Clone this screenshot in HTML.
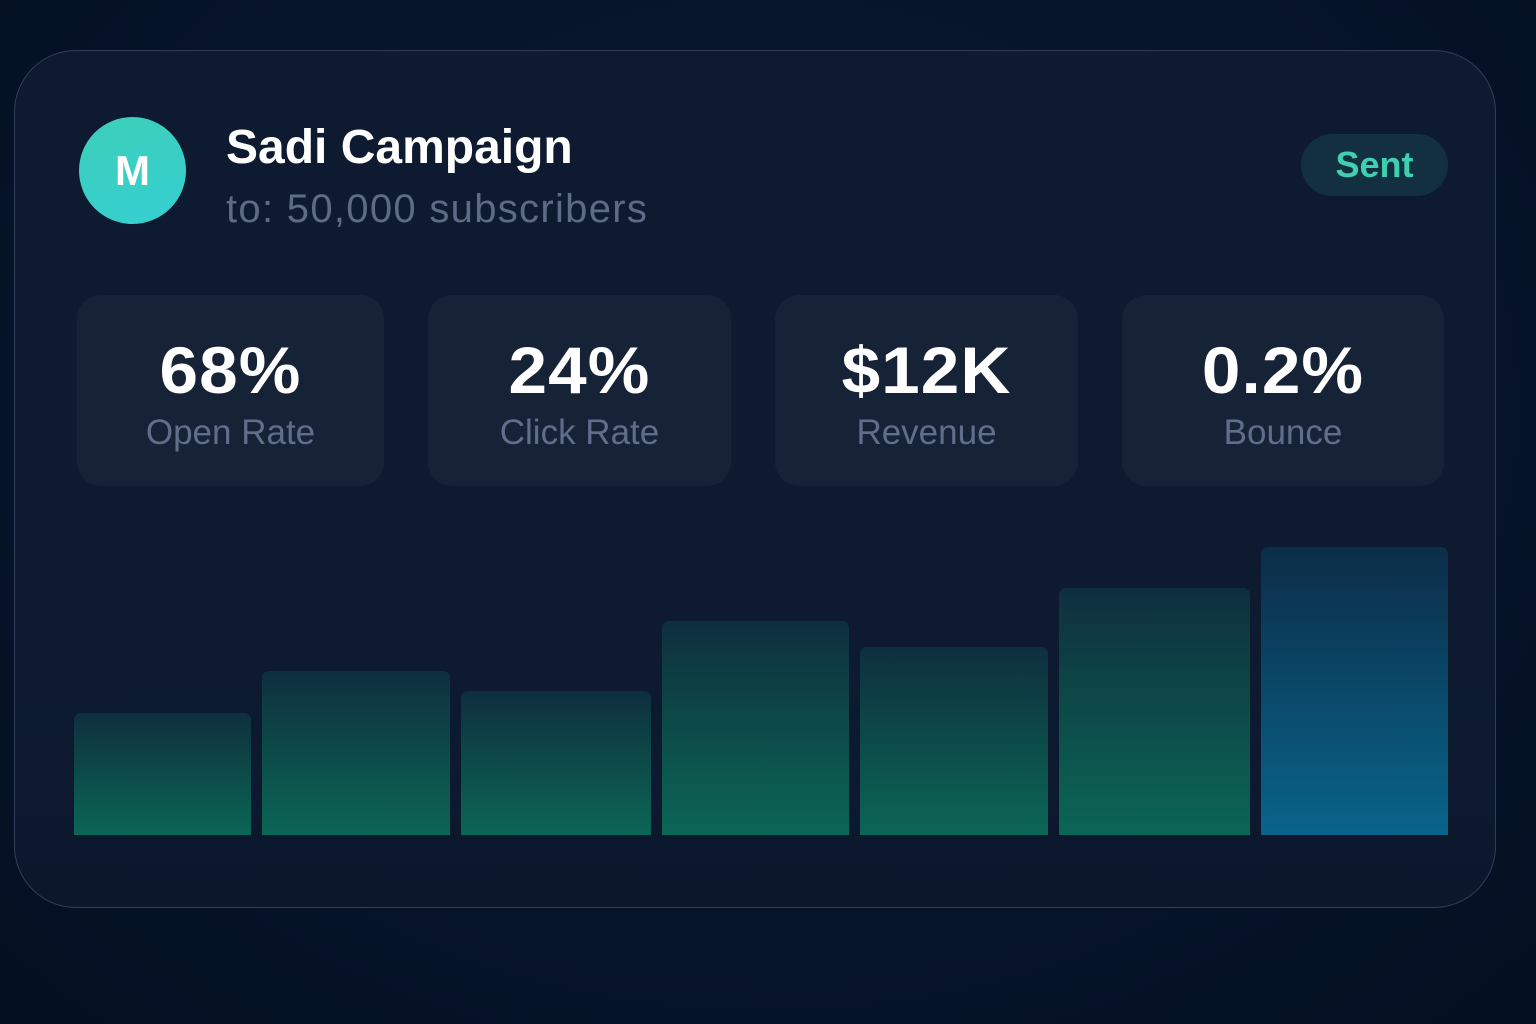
<!DOCTYPE html>
<html><head><meta charset="utf-8"><style>
html,body{margin:0;padding:0;width:1536px;height:1024px;overflow:hidden;background:radial-gradient(ellipse at 50% 40%,#0c1a30 0%,#06142a 60%,#031021 100%);font-family:"Liberation Sans",sans-serif}
.card{position:absolute;left:14px;top:50px;width:1480px;height:856px;border:1.5px solid #303e58;border-radius:62px;background:linear-gradient(180deg,#0e1a2f,#0d1a30 70%,#0b182c)}
.av{position:absolute;left:79px;top:117px;width:107px;height:107px;border-radius:50%;background:linear-gradient(160deg,#3ecfb9,#34cfd2);color:#fff;font-weight:bold;font-size:42px;line-height:107px;text-align:center}
.t{position:absolute;left:226px;top:120px;color:#fff;font-weight:bold;font-size:48px;white-space:nowrap}
.s{position:absolute;left:226px;top:187px;color:#5c6b86;font-size:40px;letter-spacing:1.3px;white-space:nowrap}
.pill{position:absolute;left:1301px;top:134px;width:147px;height:62px;border-radius:31px;background:#133040;color:#3fd0b0;font-weight:bold;font-size:36px;line-height:62px;text-align:center}
.box{position:absolute;top:295px;height:191px;border-radius:24px;background:#162236;text-align:center}
.n{position:absolute;left:0;right:0;top:332px;color:#fff;font-weight:bold;font-size:66px;letter-spacing:1px;text-align:center;transform:scaleX(1.05)}
.l{position:absolute;left:0;right:0;top:413px;color:#5f6e8a;font-size:35px;text-align:center}
.bar{position:absolute;bottom:189px;border-radius:7px 7px 0 0;background:linear-gradient(180deg,#0e2f3e,#0b6655)}
.bar.b{background:linear-gradient(180deg,#0c2d48,#08648a)}
</style></head><body>
<div class="card"></div>
<div class="av">M</div>
<div class="t">Sadi Campaign</div>
<div class="s">to: 50,000 subscribers</div>
<div class="pill">Sent</div>
<div class="box" style="left:77px;width:307px"></div>
<div class="box" style="left:428px;width:303px"></div>
<div class="box" style="left:775px;width:303px"></div>
<div class="box" style="left:1122px;width:322px"></div>
<div class="n" style="left:77px;width:307px;right:auto">68%</div>
<div class="l" style="left:77px;width:307px;right:auto">Open Rate</div>
<div class="n" style="left:428px;width:303px;right:auto">24%</div>
<div class="l" style="left:428px;width:303px;right:auto">Click Rate</div>
<div class="n" style="left:775px;width:303px;right:auto">$12K</div>
<div class="l" style="left:775px;width:303px;right:auto">Revenue</div>
<div class="n" style="left:1122px;width:322px;right:auto">0.2%</div>
<div class="l" style="left:1122px;width:322px;right:auto">Bounce</div>
<div class="bar" style="left:74px;width:177px;height:122px"></div>
<div class="bar" style="left:262px;width:188px;height:164px"></div>
<div class="bar" style="left:461px;width:190px;height:144px"></div>
<div class="bar" style="left:662px;width:187px;height:214px"></div>
<div class="bar" style="left:860px;width:188px;height:188px"></div>
<div class="bar" style="left:1059px;width:191px;height:247px"></div>
<div class="bar b" style="left:1261px;width:187px;height:288px"></div>
</body></html>
